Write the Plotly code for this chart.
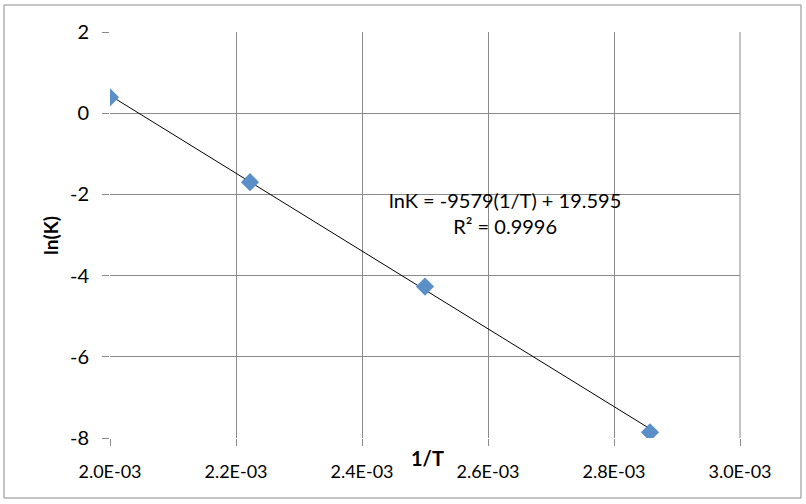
import plotly.graph_objects as go

inv_T = [1/500, 1/450, 1/400, 1/350]
lnK = [0.39, -1.70, -4.27, -7.86]
slope = -9579
intercept = 19.595
r2 = 0.9996
x_ticks = [0.0020, 0.0022, 0.0024, 0.0026, 0.0028, 0.0030]
x_tick_labels = ["2.0E-03", "2.2E-03", "2.4E-03", "2.6E-03", "2.8E-03", "3.0E-03"]
y_ticks = [2, 0, -2, -4, -6, -8]
y_tick_labels = ["2", "0", "-2", "-4", "-6", "-8"]

FONT = "Lato"
GRID = "#8a8a8a"

fit_x = [min(inv_T), max(inv_T)]
fit_y = [slope * v + intercept for v in fit_x]

fig = go.Figure()
fig.add_trace(go.Scatter(x=fit_x, y=fit_y, mode="lines",
                         line=dict(color="black", width=1), showlegend=False))
fig.add_trace(go.Scatter(x=inv_T, y=lnK, mode="markers",
                         marker=dict(symbol="diamond", size=14, color="#5b8fc8",
                                     line=dict(width=0)), showlegend=False))

fig.update_layout(
    width=806, height=504,
    margin=dict(l=110, r=66, t=32, b=66),
    paper_bgcolor="white", plot_bgcolor="white",
    font=dict(family=FONT, color="black", size=18),
    xaxis=dict(range=[0.0020, 0.0030], tickvals=x_ticks, ticktext=x_tick_labels,
               showgrid=True, gridcolor=GRID, gridwidth=1,
               ticks="outside", ticklen=7, tickcolor=GRID,
               showline=False, zeroline=False, ticklabelstandoff=10,
               tickfont=dict(size=18, family=FONT)),
    yaxis=dict(range=[-8, 2], tickvals=y_ticks, ticktext=y_tick_labels,
               showgrid=True, gridcolor=GRID, gridwidth=1,
               ticks="outside", ticklen=7, tickcolor=GRID,
               showline=False, zeroline=False, ticklabelstandoff=9,
               tickfont=dict(size=20, family=FONT)),
    annotations=[
        dict(text=f"lnK = {slope}(1/T) + {intercept}<br>R² = {r2}",
             xref="paper", yref="paper", x=(505 - 110) / 630, y=(438 - 213) / 406,
             xanchor="center", yanchor="middle",
             showarrow=False, font=dict(size=20, family=FONT), align="center"),
        dict(text="<b>1/T</b>", xref="paper", yref="paper",
             x=(427 - 110) / 630, y=(438 - 458) / 406,
             xanchor="center", yanchor="middle",
             showarrow=False, font=dict(size=20, family=FONT)),
        dict(text="<b>ln(K)</b>", xref="paper", yref="paper",
             x=(50 - 110) / 630, y=(438 - 236) / 406, textangle=-90,
             xanchor="center", yanchor="middle",
             showarrow=False, font=dict(size=19, family=FONT)),
    ],
    shapes=[
        dict(type="rect", xref="paper", yref="paper",
             x0=(4 - 110) / 630, x1=(801 - 110) / 630,
             y0=(438 - 498) / 406, y1=(438 - 5) / 406,
             line=dict(color="#8a8a8a", width=1), fillcolor="rgba(0,0,0,0)", layer="below"),
        dict(type="line", xref="paper", yref="paper", x0=1, x1=1, y0=0, y1=1,
             line=dict(color=GRID, width=1)),
    ],
)

fig.write_html("out.html", config={"displayModeBar": False},
               post_script="document.body.style.margin='0px';")
